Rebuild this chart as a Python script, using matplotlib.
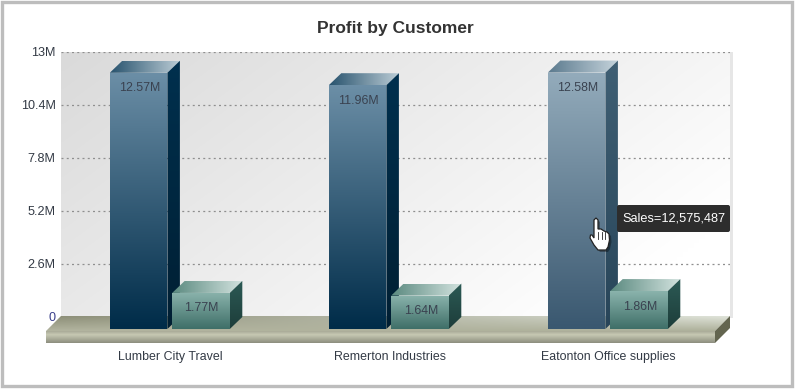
import numpy as np
import matplotlib
matplotlib.use('Agg')
import matplotlib.pyplot as plt
from matplotlib.colors import to_rgb
from matplotlib.patches import Polygon, FancyBboxPatch, Rectangle
from matplotlib.transforms import Affine2D

customers = ['Lumber City Travel', 'Remerton Industries', 'Eatonton Office supplies']
sales = [12.57, 11.96, 12.58]
profit = [1.77, 1.64, 1.86]
y_ticks = [0, 2.6, 5.2, 7.8, 10.4, 13]
y_labels = ['0', '2.6M', '5.2M', '7.8M', '10.4M', '13M']
tooltip = 'Sales=12,575,487'

W, H = 795, 389
PX_X = 219.0              # pixels per category
PX_Y = 265 / 13.0         # pixels per million
DEPTH = 12.5              # 3d offset, pixels

plt.rcParams['font.family'] = ['Liberation Sans', 'DejaVu Sans']

fig = plt.figure(figsize=(W / 100, H / 100), dpi=100)
fig.patch.set_facecolor('white')
ax = fig.add_axes([61 / W, 1 - 316.7 / H, 669 / W, 265 / H])
ax.set_facecolor('none')
for s in ax.spines.values():
    s.set_visible(False)

# page pixels (y down) to display
px = Affine2D().scale(1, -1).translate(0, H)


def grad(c0, c1, vertical=True, n=64):
    a = np.linspace(0, 1, n)[:, None] * (np.array(to_rgb(c1)) - np.array(to_rgb(c0))) + np.array(to_rgb(c0))
    a = a[:, None, :] if vertical else a[None, :, :]
    return a


def paint(img, verts, trans, z):
    # gradient image clipped to a polygon, first image row at the top of the screen
    verts = np.array(verts)
    y0, y1 = verts[:, 1].min(), verts[:, 1].max()
    if trans is px:
        y0, y1 = y1, y0
    clip = Polygon(verts, closed=True, transform=trans)
    im = ax.imshow(img, extent=[verts[:, 0].min(), verts[:, 0].max(), y0, y1],
                   origin='upper', aspect='auto', transform=trans, zorder=z, interpolation='bilinear')
    im.set_clip_box(fig.bbox)
    im.set_clip_path(clip)
    return im


def box3d(x, value, width, base, front, top, side):
    dx = DEPTH / PX_X
    dy = 12 / PX_Y
    t = base + value
    paint(grad(*front), [(x, base), (x + width, base), (x + width, t), (x, t)], ax.transData, 3)
    paint(grad(*top, vertical=False), [(x, t), (x + width, t), (x + width + dx, t + dy), (x + dx, t + dy)],
          ax.transData, 3)
    paint(grad(*side), [(x + width, base), (x + width + dx, base + dy), (x + width + dx, t + dy), (x + width, t)],
          ax.transData, 3)
    ax.text(x + width / 2 + 0.7 / PX_X, t - 15.5 / PX_Y, '%.2fM' % value, ha='center', va='center', fontsize=8.9,
            color='#3a4250', zorder=6)


# plot background, lighter towards lower right
u, v = np.meshgrid(np.linspace(0, 1, 120), np.linspace(0, 1, 60))
shade = np.clip(0.75 * u + 0.4 * v, 0, 1)
bg = 0.855 + (1.0 - 0.855) * shade
bg = np.dstack([bg, bg, bg])
paint(bg, [(61, 52), (730, 52), (730, 316), (61, 316)], px, 0)
ax.add_patch(Rectangle((730, 52), 2.5, 266, transform=px, facecolor='#e6e6e6', edgecolor='none', zorder=1,
                       clip_on=False))

# floor
left = grad('#8b8d76', '#b3b5a0')
right = grad('#e0e4da', '#adb09a')
mix = np.linspace(0, 1, 200)[None, :, None]
paint(left * (1 - mix) + right * mix, [(46, 331), (61, 316), (730, 316), (715, 331)], px, 2)
f0 = np.interp(np.linspace(0, 1, 64), [0, 0.3, 1], [0.66, 0.78, 0.55])
front_img = np.dstack([f0, f0 * 1.01, f0 * 0.9]).reshape(64, 1, 3)
paint(front_img, [(46, 331), (715, 331), (715, 343), (46, 343)], px, 2)
ax.add_patch(Polygon([(715, 331), (730, 316), (730, 328), (715, 343)], transform=px, facecolor='#63654f',
                     edgecolor='none', zorder=2, clip_on=False))

# bars
base = -12.3 / PX_Y
bw = 57.6 / PX_X
gap = 4.8 / PX_X
shift = -0.7 / PX_X
for i in range(len(customers)):
    if i == 2:
        # hovered bar is drawn lighter
        f, t, s = ('#93abbb', '#3a5870'), ('#5b7a8e', '#c6d4dc'), ('#3f5f74', '#284559')
    else:
        f, t, s = ('#6b8ea6', '#002c49'), ('#28536e', '#bccdd6'), ('#00304e', '#001f33')
    box3d(i + shift - bw - gap / 2, sales[i], bw, base, f, t, s)
    box3d(i + shift + gap / 2, profit[i], bw, base, ('#8ab3ac', '#3f6f68'), ('#5b8a80', '#d3e3df'), ('#2c5a55', '#1d3d3a'))

ax.set_xlim((61 - 170.5) / PX_X, (730 - 170.5) / PX_X)
ax.set_ylim(0, 13)

ax.set_yticks(y_ticks)
ax.set_yticklabels(y_labels)
ax.set_xticks(range(len(customers)))
ax.set_xticklabels(customers)
ax.tick_params(axis='y', length=0, pad=4, labelsize=9.05, labelcolor='#333a45')
ax.tick_params(axis='x', length=0, pad=25, labelsize=8.95, labelcolor='#333a45')
ax.get_yticklabels()[0].set_color('#3a3f8a')
ax.yaxis.grid(True, color='#8f8f8f', linestyle=(0, (1.6, 2.6)), linewidth=0.9, zorder=1)
ax.set_axisbelow(True)

fig.text(395 / W, 1 - 28 / H, 'Profit by Customer', ha='center', va='center', fontsize=12.5, fontweight='bold',
         color='#333333')

# tooltip
ax.add_patch(FancyBboxPatch((619, 207), 109, 23, boxstyle='round,pad=2', transform=px, facecolor='#2d2d2d',
                            edgecolor='none', zorder=7, clip_on=False))
ax.text(673.5, 218.5, tooltip, transform=px, ha='center', va='center', fontsize=9.2, color='white', zorder=8)

# hand cursor
hand = [(594, 220), (596, 218), (598, 220), (598, 229), (601, 229), (604, 231), (607, 232), (609, 234), (609.5, 240),
        (608, 247), (606, 250), (598, 250), (594, 245), (590, 238), (590.5, 235), (592, 235), (594, 238)]
ax.add_patch(Polygon([(x + 2, y + 2) for x, y in hand], transform=px, facecolor='#00000055', edgecolor='none',
                     zorder=8, clip_on=False))
ax.add_patch(Polygon(hand, transform=px, facecolor='white', edgecolor='#222222', linewidth=0.9, zorder=9,
                     clip_on=False))
for xs in [598, 601.5, 605]:
    ax.plot([xs, xs], [232, 239], transform=px, color='#222222', lw=0.6, zorder=10, clip_on=False)

# outer frame
fig.add_artist(Rectangle((1.5, 1.5), W - 4.5, H - 4.5, transform=px, facecolor='none', edgecolor='#bdbdbd',
                         linewidth=2.4))

fig.savefig('out.png', dpi=100)
